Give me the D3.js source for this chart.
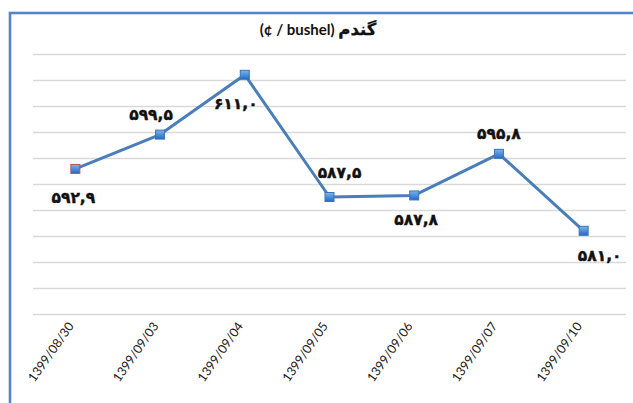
<!DOCTYPE html>
<html><head><meta charset="utf-8">
<script src="https://cdn.jsdelivr.net/npm/d3@7"></script>
<style>html,body{margin:0;padding:0;background:#fff;}svg{display:block;}</style>
</head><body>
<script>
const categories = ["1399/08/30","1399/09/03","1399/09/04","1399/09/05","1399/09/06","1399/09/07","1399/09/10"];
const values = [592.9, 599.5, 611.0, 587.5, 587.8, 595.8, 581.0];
const yTicks = [565,570,575,580,585,590,595,600,605,610,615];
const titleUnit = "(¢ / bushel) ";
const titleName = "گندم";
// label placement relative to point (dx, dy)
const labelOffsets = [[-2,29],[-9,-20],[-9,29],[10,-24],[2,24],[0,-20],[16,25]];

const W = 633, H = 403;
const svg = d3.select("body").append("svg").attr("width", W).attr("height", H);

// frame
svg.append("rect").attr("x",10).attr("y",13).attr("width",W+20).attr("height",H+20)
  .attr("fill","none").attr("stroke","#5585c5").attr("stroke-width",2.6);

const m = {l:33, r:626, t:54, b:314};
const x = d3.scaleBand().domain(categories).range([m.l, m.r]);
const y = d3.scaleLinear().domain([565,615]).range([m.b, m.t]);

// gridlines
svg.append("g").selectAll("line").data(yTicks).join("line")
  .attr("x1", m.l).attr("x2", m.r)
  .attr("y1", d=>Math.round(y(d))+0.5).attr("y2", d=>Math.round(y(d))+0.5)
  .attr("stroke","#d9d9d9").attr("stroke-width",1.4);

// x axis labels
const xAxis = d3.axisBottom(x).tickSize(0).tickPadding(0);
const gx = svg.append("g").attr("transform",`translate(0,${m.b})`).call(xAxis);
gx.select(".domain").remove();
gx.selectAll("text")
  .attr("font-family","Lato, 'Open Sans', sans-serif").attr("font-size",12.5).attr("fill","#1a1a1a")
  .attr("text-anchor","end").attr("dy",0).attr("y",0)
  .attr("transform","translate(-1,12) rotate(-55)");

// line
const pts = categories.map((c,i)=>[x(c)+x.bandwidth()/2, y(values[i])]);
svg.append("path").attr("d", d3.line()(pts)).attr("fill","none")
  .attr("stroke","#4a7ebb").attr("stroke-width",3).attr("stroke-linejoin","round");

// gradient for markers
const defs = svg.append("defs");
const gr = defs.append("linearGradient").attr("id","mk").attr("x1","0").attr("y1","0").attr("x2","0").attr("y2","1");
gr.append("stop").attr("offset","0%").attr("stop-color","#7db4ea");
gr.append("stop").attr("offset","100%").attr("stop-color","#1f6cc4");

svg.append("g").selectAll("rect").data(pts).join("rect")
  .attr("x", d=>d[0]-4.5).attr("y", d=>d[1]-4.5).attr("width",9).attr("height",9)
  .attr("fill","url(#mk)")
  .attr("stroke",(d,i)=> i===0 ? "#c0504d" : "#3c74b8").attr("stroke-width",1);

// data labels
const fa = "۰۱۲۳۴۵۶۷۸۹";
const toFa = v => v.toFixed(1).replace(/\d/g, c=>fa[+c]).replace(".", ",");
svg.append("g").selectAll("text").data(values).join("text")
  .attr("x",(d,i)=>pts[i][0]+labelOffsets[i][0])
  .attr("y",(d,i)=>pts[i][1]+labelOffsets[i][1])
  .attr("dy","0.35em").attr("text-anchor","middle")
  .attr("font-family","'DejaVu Sans', sans-serif").attr("font-weight","bold").attr("font-size",15.5)
  .attr("fill","#111").attr("stroke","#111").attr("stroke-width",0.4).text(d=>toFa(d));

// title
const title = svg.append("text").attr("x",318).attr("y",35).attr("text-anchor","middle")
  .attr("font-weight","bold").attr("fill","#111");
title.append("tspan").attr("font-family","Lato, sans-serif").attr("font-size",15).text(titleUnit);
title.append("tspan").attr("font-family","'DejaVu Sans', sans-serif").attr("font-size",16.5)
  .attr("stroke","#111").attr("stroke-width",0.3).text(titleName);
</script>
</body></html>
